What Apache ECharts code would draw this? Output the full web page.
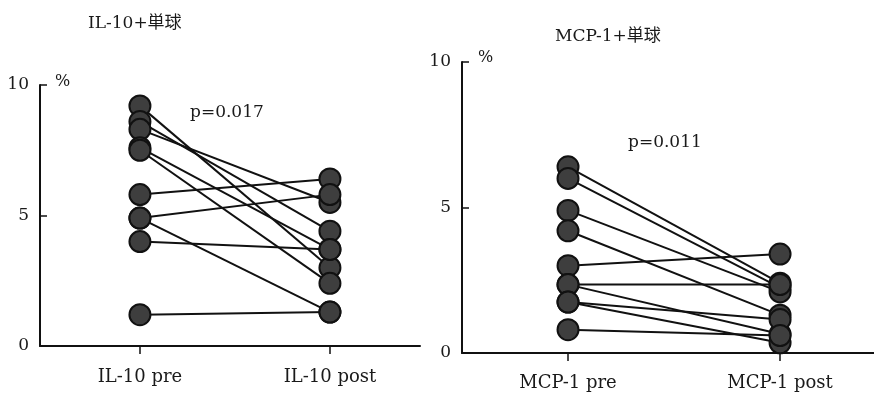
<!DOCTYPE html>
<html>
<head>
<meta charset="utf-8">
<script src="https://cdn.jsdelivr.net/npm/echarts@6/dist/echarts.min.js"></script>
<style>
html,body{margin:0;padding:0;background:#fff;}
#chart{width:874px;height:393px;}
</style>
</head>
<body>
<div id="chart"></div>
<script>
// ---- data ----
var il10Categories = ['IL-10 pre', 'IL-10 post'];
var il10Pre  = [9.2, 8.6, 8.3, 7.6, 7.5, 5.8, 4.9, 4.9, 4.0, 1.2];
var il10Post = [3.0, 4.4, 5.5, 3.7, 2.4, 6.4, 5.8, 1.3, 3.7, 1.3];

var mcpCategories = ['MCP-1 pre', 'MCP-1 post'];
var mcpPre  = [6.4, 6.0, 4.9, 4.2, 3.0, 2.35, 2.35, 1.75, 1.75, 0.8];
var mcpPost = [2.4, 2.25, 2.1, 1.3, 3.4, 2.35, 0.65, 1.15, 0.35, 0.6];

var yTicks = [0, 5, 10];
var titles = ['IL-10+単球', 'MCP-1+単球'];
var pValues = ['p=0.017', 'p=0.011'];
var unitLabel = '%';

// ---- chart ----
var SERIF = "'DejaVu Serif', 'Liberation Serif', 'Noto Sans CJK JP', serif";
var chart = echarts.init(document.getElementById('chart'), null, {renderer: 'canvas'});

function makeX(gridIndex, cats, min, max, margin) {
  return {
    type: 'value', gridIndex: gridIndex, min: min, max: max,
    axisLine: {show: true, onZero: false, lineStyle: {color: '#111', width: 2}},
    axisTick: {show: true, inside: false, length: 8, lineStyle: {color: '#111', width: 1.5}, customValues: [0, 1]},
    axisLabel: {
      customValues: [0, 1], margin: margin, color: '#1a1a1a',
      fontFamily: SERIF, fontSize: 18,
      formatter: function (v) { return cats[Math.round(v)]; }
    },
    splitLine: {show: false}
  };
}
function makeY(gridIndex) {
  return {
    type: 'value', gridIndex: gridIndex, min: 0, max: 10, interval: 5,
    axisLine: {show: true, onZero: false, lineStyle: {color: '#111', width: 2}},
    axisTick: {show: true, inside: true, length: 7, lineStyle: {color: '#111', width: 1.5}},
    axisLabel: {margin: 11, color: '#1a1a1a', fontFamily: SERIF, fontSize: 17,
      formatter: function (v) { return yTicks.indexOf(v) >= 0 ? String(v) : ''; }},
    splitLine: {show: false}
  };
}

var series = [];
function addPairs(pre, post, idx) {
  for (var i = 0; i < pre.length; i++) {
    series.push({
      type: 'line', xAxisIndex: idx, yAxisIndex: idx,
      data: [[0, pre[i]], [1, post[i]]],
      symbol: 'circle', symbolSize: 21,
      lineStyle: {color: '#111', width: 2},
      itemStyle: {color: '#3e3e3e', borderColor: '#111', borderWidth: 2},
      silent: true, animation: false, z: 2
    });
  }
}
addPairs(il10Pre, il10Post, 0);
addPairs(mcpPre, mcpPost, 1);

function txt(text, left, top, size) {
  return {text: text, left: left, top: top, padding: 0,
    textStyle: {fontFamily: SERIF, fontWeight: 'normal', fontSize: size, color: '#1a1a1a'}};
}

chart.setOption({
  backgroundColor: '#ffffff',
  animation: false,
  title: [
    txt(titles[0], 88, 15, 17),
    txt(titles[1], 555, 28, 17),
    txt(pValues[0], 190, 104, 17),
    txt(pValues[1], 628, 134, 17),
    txt(unitLabel, 55, 74, 16),
    txt(unitLabel, 478, 50, 16)
  ],
  grid: [
    {left: 40, top: 85, width: 380, height: 261},
    {left: 462, top: 62, width: 412, height: 291}
  ],
  xAxis: [makeX(0, il10Categories, -0.526, 1.474, 22), makeX(1, mcpCategories, -0.5, 1.443, 21)],
  yAxis: [makeY(0), makeY(1)],
  series: series
});
</script>
</body>
</html>
